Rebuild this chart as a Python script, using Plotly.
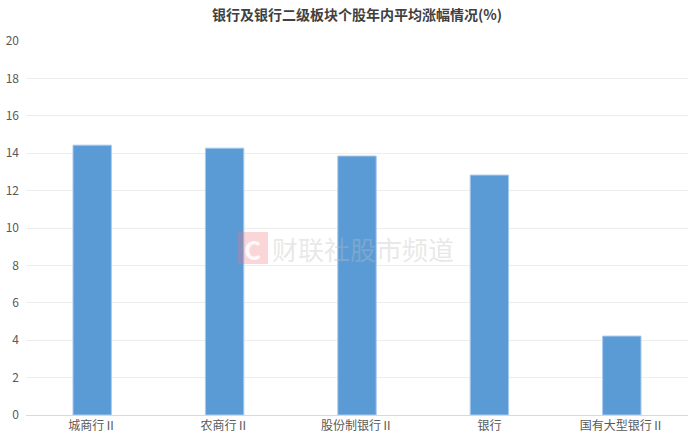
import plotly.graph_objects as go

categories = ["城商行Ⅱ", "农商行Ⅱ", "股份制银行Ⅱ", "银行", "国有大型银行Ⅱ"]
values = [14.43, 14.27, 13.85, 12.83, 4.22]
y_ticks = [0, 2, 4, 6, 8, 10, 12, 14, 16, 18, 20]

font_family = "Noto Sans CJK SC, Noto Sans, sans-serif"

W, H = 692, 445

fig = go.Figure()
fig.add_trace(go.Bar(
    x=categories, y=values,
    marker=dict(color="#5b9bd5", line=dict(color="#a9c9ec", width=1)),
    width=0.29,
))

fig.update_layout(
    width=W, height=H,
    margin=dict(l=26, r=4, t=41, b=30, autoexpand=False),
    paper_bgcolor="white", plot_bgcolor="white",
    showlegend=False,
    font=dict(family=font_family, color="#666666", size=12),
    title=dict(text="<b>银行及银行二级板块个股年内平均涨幅情况(%)</b>",
               x=0.5, xanchor="center", xref="paper",
               y=1 - 15 / H, yref="container", yanchor="middle", automargin=False,
               font=dict(size=14, color="#404040", family=font_family)),
    xaxis=dict(showline=True, linecolor="#d9d9d9", linewidth=1,
               ticks="", tickfont=dict(size=12, color="#595959"),
               showgrid=False, automargin=False),
    yaxis=dict(range=[0, 20], tickvals=y_ticks, showgrid=True,
               gridcolor="#ededed", gridwidth=1, zeroline=False,
               ticks="", tickfont=dict(size=12, color="#595959"),
               ticklabelstandoff=6, automargin=False),
)

# watermark logo (paper coords relative to plot area 26..688 x 41..415)
px0, pw, py0, ph = 26, 662, 415, 374
fig.add_shape(type="rect", xref="paper", yref="paper",
              x0=(238 - px0) / pw, x1=(268 - px0) / pw,
              y0=(py0 - 264) / ph, y1=(py0 - 232) / ph,
              fillcolor="rgba(240,120,130,0.3)", line=dict(width=0), layer="above")
fig.add_annotation(xref="paper", yref="paper",
                   x=(253 - px0) / pw, y=(py0 - 248) / ph,
                   text="<b>C</b>", showarrow=False,
                   font=dict(size=26, color="rgba(255,255,255,0.9)", family=font_family))
fig.add_annotation(xref="paper", yref="paper",
                   x=(270 - px0) / pw, y=(py0 - 248) / ph,
                   xanchor="left", yanchor="middle",
                   text="财联社股市频道", showarrow=False,
                   font=dict(size=26, color="rgba(190,190,190,0.35)", family=font_family))

fig.write_html("out.html", config={"displayModeBar": False},
               post_script="document.body.style.margin='0px';")
